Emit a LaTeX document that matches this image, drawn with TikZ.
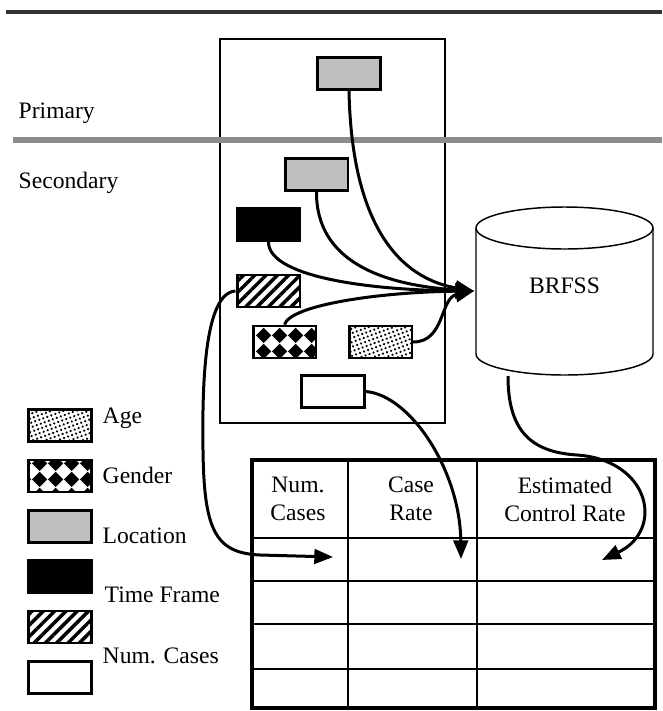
\documentclass[tikz,border=0pt]{standalone}
\usepackage{fontspec}
\setmainfont{Liberation Serif}
\usetikzlibrary{arrows.meta,patterns,patterns.meta,positioning}

\definecolor{locgray}{gray}{0.75}
\definecolor{rulegray}{gray}{0.55}
\definecolor{topgray}{gray}{0.2}

% gender fill: rows of black diamonds
\pgfdeclarepatternformonly{diamonds}{\pgfpointorigin}{\pgfpoint{12pt}{12pt}}{\pgfpoint{12pt}{12pt}}{%
  \pgfpathmoveto{\pgfpoint{6pt}{0pt}}%
  \pgfpathlineto{\pgfpoint{12pt}{6pt}}%
  \pgfpathlineto{\pgfpoint{6pt}{12pt}}%
  \pgfpathlineto{\pgfpoint{0pt}{6pt}}%
  \pgfpathclose\pgfusepath{fill}}

\begin{document}
\begin{tikzpicture}[x=0.75pt,y=-0.75pt,font=\fontsize{17.7}{21}\selectfont,
  >={Triangle[length=14pt,width=11pt]},node distance=37.8pt,
  field/.style={draw,line width=2pt,minimum width=47pt,minimum height=24pt,inner sep=0pt},
  locfield/.style={field,fill=locgray},
  timefield/.style={field,fill=black},
  agefield/.style={field,pattern={Dots[distance=3.2pt,radius=0.95pt,angle=20]}},
  genderfield/.style={field,pattern=diamonds},
  casefield/.style={field,pattern={Lines[angle=45,distance=6pt,line width=2.6pt]}},
  numfield/.style={field,fill=white},
  flow/.style={->,line width=2.25pt},
  legend/.style={anchor=base west}]

  \useasboundingbox (0,0) rectangle (662,711);

  \draw[topgray,line width=3pt] (6,12) -- (662,12);
  \draw[line width=1.1pt] (220,39) rectangle (445,423);
  \draw[rulegray,line width=4.5pt] (13,140) -- (662,140);

  \node[legend] (primary) at (14,118) {Primary};
  \node[legend] (secondary) at (14,188) {Secondary};

  % data fields
  \node[locfield] (loc1) at (349,73.5) {};
  \node[locfield] (loc2) at (316.5,174.5) {};
  \node[timefield] (time) at (268.5,224.5) {};
  \node[casefield] (cases) at (268.5,291) {};
  \node[genderfield] (gender) at (284.5,342) {};
  \node[agefield] (age) at (380.5,342) {};
  \node[numfield] (num) at (333,391.5) {};

  % BRFSS database
  \draw[line width=1.1pt,fill=white] (476,228) -- (476,354)
    arc[start angle=180,end angle=0,x radius=88.5,y radius=21] -- (653,228);
  \draw[line width=1.1pt] (564.5,228) ellipse [x radius=88.5,y radius=21];
  \node (brfss) at (564.5,286) {BRFSS};
  \coordinate (dbin) at (474,291);
  \coordinate (dbout) at (508,376);

  % result table
  \foreach \y in {538,581,624,669}
    \draw[line width=1.5pt] (252,\y) -- (655,\y);
  \foreach \x in {348,477}
    \draw[line width=1.5pt] (\x,460) -- (\x,708);
  \draw[line width=3.5pt] (252,460) rectangle (655,708);
  \node[align=center] (hnum) at (298,499) {Num.\\Cases};
  \node[align=center] (hrate) at (411,499) {Case\\Rate};
  \node[align=center] (hctrl) at (565,499) {Estimated\\Control Rate};
  \coordinate (numcell) at (333,557);
  \coordinate (ratecell) at (461,559);
  \coordinate (ctrlcell) at (602,560);

  \draw[flow] (loc1.south) .. controls (352,240) and (410,280) .. (dbin);
  \draw[flow] (loc2.south) .. controls (316,260) and (380,285) .. (dbin);
  \draw[flow] (time.south) .. controls (268,275) and (360,290) .. (dbin);
  \draw[flow] (gender.north) .. controls (290,305) and (380,292) .. (dbin);
  \draw[flow] (age.east) .. controls (445,342) and (440,298) .. (dbin);
  \draw[flow] (cases.west) .. controls (205,293) and (202,380) .. (203,450)
    .. controls (204,530) and (215,553) .. (260,555) -- (numcell);
  \draw[flow] (num.east) .. controls (410,395) and (460,470) .. (ratecell);
  \draw[flow] (dbout) .. controls (508,430) and (530,452) .. (577,455)
    .. controls (650,460) and (665,530) .. (ctrlcell);

  % legend
  \node[agefield] (lage) at (60,425.5) {};
  \node[genderfield,below of=lage] (lgender) {};
  \node[locfield,below of=lgender] (lloc) {};
  \node[timefield,below of=lloc] (ltime) {};
  \node[casefield,below of=ltime] (lcases) {};
  \node[numfield,below of=lcases] (lnum) {};
  \node[legend] (tage) at (98,423) {Age};
  \node[legend] (tgender) at (98,483) {Gender};
  \node[legend] (tloc) at (98,543) {Location};
  \node[legend] (ttime) at (100,602) {Time Frame};
  \node[legend] (tnum) at (98,663) {Num. Cases};
\end{tikzpicture}
\end{document}
